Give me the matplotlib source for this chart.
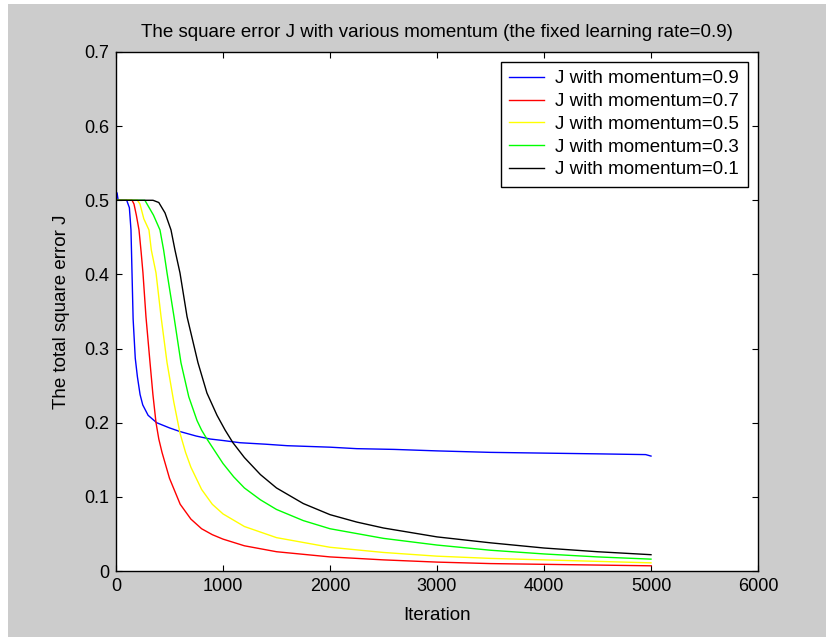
import matplotlib
matplotlib.use("Agg")
import matplotlib.pyplot as plt
from matplotlib.patches import Rectangle

# ── Data: total square error J vs iteration, one run per momentum ─────
momentum = [0.9, 0.7, 0.5, 0.3, 0.1]
colors = ["#0000ff", "#ff0000", "#ffff00", "#00ff00", "#000000"]

it_m09 = [0, 10, 20, 100, 125, 140, 150, 160, 180, 200, 225, 250, 300, 380, 500,
          600, 750, 880, 1000, 1160, 1400, 1600, 2000, 2250, 2600, 3000, 3500,
          4000, 4500, 4950, 5000]
j_m09 = [0.51, 0.51, 0.50, 0.50, 0.49, 0.46, 0.40, 0.34, 0.287, 0.262, 0.238,
         0.224, 0.210, 0.200, 0.193, 0.188, 0.182, 0.178, 0.176, 0.173, 0.171,
         0.169, 0.167, 0.165, 0.164, 0.162, 0.160, 0.159, 0.158, 0.157, 0.155]

it_m07 = [0, 150, 168, 190, 215, 235, 252, 280, 318, 345, 374, 400, 430, 500,
          600, 700, 800, 900, 1000, 1200, 1500, 2000, 2500, 3000, 3500, 4000,
          4500, 5000]
j_m07 = [0.50, 0.50, 0.495, 0.48, 0.46, 0.43, 0.402, 0.343, 0.281, 0.238, 0.200,
         0.178, 0.160, 0.125, 0.090, 0.070, 0.057, 0.049, 0.043, 0.034, 0.026,
         0.019, 0.015, 0.012, 0.010, 0.009, 0.008, 0.007]

it_m05 = [0, 200, 224, 260, 308, 330, 374, 421, 477, 540, 598, 650, 700, 800,
          900, 1000, 1200, 1500, 2000, 2500, 3000, 3500, 4000, 4500, 5000]
j_m05 = [0.50, 0.50, 0.495, 0.475, 0.46, 0.433, 0.402, 0.343, 0.281, 0.228,
         0.186, 0.160, 0.140, 0.110, 0.090, 0.077, 0.060, 0.045, 0.032, 0.025,
         0.020, 0.017, 0.015, 0.013, 0.011]

it_m03 = [0, 270, 290, 350, 411, 445, 477, 542, 607, 680, 757, 800, 850, 1000,
          1100, 1200, 1350, 1500, 1750, 2000, 2500, 3000, 3500, 4000, 4500, 5000]
j_m03 = [0.50, 0.50, 0.495, 0.48, 0.46, 0.433, 0.402, 0.343, 0.281, 0.235,
         0.203, 0.190, 0.178, 0.145, 0.127, 0.112, 0.096, 0.083, 0.068, 0.057,
         0.044, 0.035, 0.028, 0.023, 0.019, 0.016]

it_m01 = [0, 346, 400, 458, 514, 551, 598, 664, 766, 850, 944, 1020, 1093, 1200,
          1350, 1500, 1750, 2000, 2250, 2500, 3000, 3500, 4000, 4500, 5000]
j_m01 = [0.50, 0.50, 0.497, 0.483, 0.46, 0.433, 0.402, 0.343, 0.281, 0.240,
         0.210, 0.190, 0.173, 0.153, 0.130, 0.112, 0.091, 0.076, 0.066, 0.058,
         0.046, 0.038, 0.031, 0.026, 0.022]

runs = [(it_m09, j_m09), (it_m07, j_m07), (it_m05, j_m05),
        (it_m03, j_m03), (it_m01, j_m01)]

x_ticks = [0, 1000, 2000, 3000, 4000, 5000, 6000]
y_ticks = [0, 0.1, 0.2, 0.3, 0.4, 0.5, 0.6, 0.7]

# ── Figure ───────────────────────────────────────────────────────────
plt.rcParams["font.family"] = ["Liberation Sans", "DejaVu Sans"]
FS = 13.5

W, H = 826, 637
fig = plt.figure(figsize=(W / 100, H / 100), dpi=100, facecolor="white")
# grey window background, thin white strip on the top and left edges
fig.patches.append(Rectangle((8 / W, 0), 1, 1 - 4 / H, transform=fig.transFigure,
                             facecolor="#cccccc", edgecolor="none", zorder=-10))

ax = fig.add_axes([116 / W, (H - 571) / H, (758 - 116) / W, (571 - 52) / H])
ax.set_facecolor("white")

for (it, j), m, c in zip(runs, momentum, colors):
    ax.plot(it, j, color=c, lw=1.0, label=f"J with momentum={m}")

ax.set_xlim(0, 6000)
ax.set_ylim(0, 0.7)
ax.set_xticks(x_ticks)
ax.set_xticklabels([str(v) for v in x_ticks])
ax.set_yticks(y_ticks)
ax.set_yticklabels(["0"] + [f"{v:.1f}" for v in y_ticks[1:]])
ax.tick_params(direction="in", length=4, width=0.8, top=True, right=True,
               labelsize=FS - 0.5, pad=5, colors="black")
for s in ax.spines.values():
    s.set_linewidth(1.0)
    s.set_color("black")

ax.set_title("The square error J with various momentum (the fixed learning rate=0.9)",
             fontsize=FS, pad=11)
ax.set_xlabel("Iteration", fontsize=FS, labelpad=9)
ax.set_ylabel("The total square error J", fontsize=FS, labelpad=10)

leg = ax.legend(loc="upper right", bbox_to_anchor=(0.984, 0.981), fontsize=FS,
                frameon=True, fancybox=False, framealpha=1, edgecolor="black",
                borderaxespad=0, handlelength=1.85, handletextpad=0.6,
                labelspacing=0.3, borderpad=0.45)
leg.get_frame().set_linewidth(1.0)

fig.savefig("out.png", dpi=100, facecolor=fig.get_facecolor())
